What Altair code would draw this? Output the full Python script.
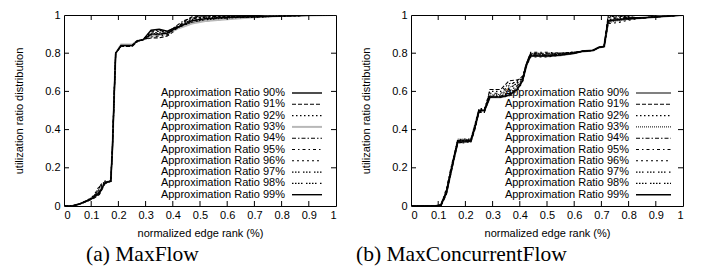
import altair as alt
import pandas as pd

# ---------------- data ----------------
series_names = ["90", "91", "92", "93", "94", "95", "96", "97", "98", "99"]
legend_labels = ["Approximation Ratio %s%%" % s for s in series_names]

x_ticks = [0.1, 0.2, 0.3, 0.4, 0.5, 0.6, 0.7, 0.8, 0.9]
y_ticks = [0.2, 0.4, 0.6, 0.8]
x_label_values = [0, 0.1, 0.2, 0.3, 0.4, 0.5, 0.6, 0.7, 0.8, 0.9, 1]
y_label_values = [0, 0.2, 0.4, 0.6, 0.8, 1]

# (a) MaxFlow
mf_x = [0, 0.03, 0.06, 0.09, 0.11, 0.13, 0.15, 0.172, 0.178, 0.185, 0.19, 0.21, 0.25, 0.27,
        0.29, 0.32, 0.35, 0.38, 0.41, 0.44, 0.47, 0.52, 0.6, 0.7, 0.8, 0.9, 1.0]
mf_90 = [0, 0, 0.012, 0.03, 0.045, 0.065, 0.12, 0.13, 0.30, 0.60, 0.80, 0.84, 0.84, 0.865, 0.87, 0.92, 0.925, 0.915, 0.935, 0.945, 0.96, 0.97, 0.98, 0.99, 0.995, 0.998, 1]
mf_91 = [0, 0, 0.010, 0.028, 0.04, 0.06, 0.115, 0.13, 0.29, 0.59, 0.80, 0.835, 0.835, 0.86, 0.87, 0.88, 0.88, 0.89, 0.92, 0.965, 0.99, 0.995, 0.997, 0.993, 0.995, 0.998, 1]
mf_92 = [0, 0, 0.013, 0.033, 0.05, 0.09, 0.125, 0.13, 0.31, 0.61, 0.80, 0.84, 0.84, 0.865, 0.87, 0.905, 0.91, 0.905, 0.93, 0.955, 0.975, 0.985, 0.99, 0.99, 0.995, 0.998, 1]
mf_93 = [0, 0, 0.012, 0.031, 0.047, 0.08, 0.12, 0.13, 0.30, 0.60, 0.80, 0.845, 0.845, 0.865, 0.87, 0.89, 0.895, 0.9, 0.925, 0.94, 0.955, 0.968, 0.978, 0.988, 0.995, 0.998, 1]
mf_94 = [0, 0, 0.011, 0.029, 0.043, 0.075, 0.118, 0.13, 0.30, 0.60, 0.80, 0.84, 0.84, 0.865, 0.87, 0.915, 0.92, 0.91, 0.94, 0.97, 0.985, 0.99, 0.995, 0.992, 0.995, 0.998, 1]
mf_95 = [0, 0, 0.012, 0.032, 0.052, 0.10, 0.128, 0.13, 0.30, 0.60, 0.80, 0.84, 0.84, 0.865, 0.87, 0.885, 0.89, 0.895, 0.925, 0.95, 0.97, 0.98, 0.985, 0.99, 0.995, 0.998, 1]
mf_96 = [0, 0, 0.013, 0.034, 0.055, 0.105, 0.13, 0.13, 0.31, 0.61, 0.80, 0.84, 0.84, 0.865, 0.87, 0.91, 0.915, 0.91, 0.935, 0.96, 0.98, 0.99, 0.993, 0.99, 0.995, 0.998, 1]
mf_97 = [0, 0, 0.011, 0.03, 0.045, 0.085, 0.122, 0.13, 0.30, 0.60, 0.80, 0.84, 0.84, 0.865, 0.87, 0.895, 0.9, 0.9, 0.93, 0.945, 0.965, 0.975, 0.985, 0.988, 0.995, 0.998, 1]
mf_98 = [0, 0, 0.012, 0.031, 0.048, 0.095, 0.125, 0.13, 0.30, 0.60, 0.80, 0.84, 0.84, 0.865, 0.87, 0.9, 0.905, 0.905, 0.928, 0.955, 0.978, 0.988, 0.99, 0.99, 0.995, 0.998, 1]
mf_99 = [0, 0, 0.012, 0.03, 0.046, 0.07, 0.12, 0.13, 0.30, 0.60, 0.80, 0.84, 0.84, 0.865, 0.87, 0.9, 0.9, 0.905, 0.93, 0.95, 0.97, 0.98, 0.988, 0.99, 0.995, 0.998, 1]

# (b) MaxConcurrentFlow
mcf_x = [0, 0.09, 0.11, 0.13, 0.15, 0.172, 0.2, 0.22, 0.235, 0.25, 0.27, 0.29, 0.33, 0.36, 0.39,
         0.41, 0.425, 0.44, 0.5, 0.55, 0.6, 0.63, 0.67, 0.69, 0.71, 0.725, 0.76, 0.79, 0.85, 0.9, 1.0]
mcf_90 = [0, 0, 0.005, 0.07, 0.2, 0.34, 0.34, 0.34, 0.42, 0.5, 0.5, 0.57, 0.57, 0.58, 0.61, 0.66, 0.74, 0.79, 0.785, 0.79, 0.80, 0.81, 0.815, 0.83, 0.835, 0.97, 0.975, 0.98, 0.985, 0.99, 1]
mcf_91 = [0, 0, 0.0, 0.06, 0.19, 0.33, 0.335, 0.335, 0.40, 0.49, 0.49, 0.61, 0.61, 0.655, 0.66, 0.67, 0.75, 0.80, 0.80, 0.80, 0.805, 0.81, 0.815, 0.83, 0.835, 1.0, 1.0, 0.99, 0.985, 0.99, 1]
mcf_92 = [0, 0, 0.003, 0.065, 0.2, 0.345, 0.35, 0.35, 0.42, 0.51, 0.51, 0.6, 0.6, 0.64, 0.65, 0.67, 0.74, 0.795, 0.795, 0.8, 0.805, 0.81, 0.815, 0.83, 0.835, 0.99, 0.995, 0.99, 0.985, 0.99, 1]
mcf_93 = [0, 0, 0.005, 0.08, 0.21, 0.35, 0.35, 0.345, 0.41, 0.5, 0.5, 0.58, 0.585, 0.62, 0.64, 0.665, 0.745, 0.80, 0.79, 0.795, 0.80, 0.81, 0.815, 0.83, 0.835, 0.96, 0.97, 0.975, 0.985, 0.99, 1]
mcf_94 = [0, 0, 0.004, 0.075, 0.205, 0.34, 0.34, 0.34, 0.41, 0.5, 0.5, 0.57, 0.575, 0.6, 0.63, 0.66, 0.745, 0.79, 0.79, 0.795, 0.80, 0.81, 0.815, 0.83, 0.835, 0.975, 0.985, 0.985, 0.985, 0.99, 1]
mcf_95 = [0, 0, 0.006, 0.09, 0.22, 0.34, 0.345, 0.345, 0.42, 0.505, 0.505, 0.59, 0.59, 0.63, 0.655, 0.68, 0.75, 0.805, 0.805, 0.8, 0.805, 0.81, 0.815, 0.83, 0.835, 0.985, 0.99, 0.985, 0.985, 0.99, 1]
mcf_96 = [0, 0, 0.005, 0.07, 0.2, 0.335, 0.33, 0.34, 0.41, 0.495, 0.495, 0.57, 0.57, 0.575, 0.6, 0.65, 0.735, 0.78, 0.78, 0.79, 0.80, 0.81, 0.815, 0.83, 0.835, 0.955, 0.96, 0.97, 0.985, 0.99, 1]
mcf_97 = [0, 0, 0.004, 0.08, 0.21, 0.345, 0.345, 0.35, 0.42, 0.505, 0.505, 0.58, 0.58, 0.61, 0.645, 0.665, 0.745, 0.80, 0.80, 0.8, 0.805, 0.81, 0.815, 0.83, 0.835, 0.99, 0.995, 0.99, 0.985, 0.99, 1]
mcf_98 = [0, 0, 0.005, 0.075, 0.205, 0.34, 0.34, 0.34, 0.41, 0.5, 0.5, 0.575, 0.575, 0.59, 0.62, 0.655, 0.74, 0.79, 0.79, 0.795, 0.80, 0.81, 0.815, 0.83, 0.835, 0.965, 0.98, 0.98, 0.985, 0.99, 1]
mcf_99 = [0, 0, 0.005, 0.07, 0.2, 0.34, 0.34, 0.34, 0.41, 0.5, 0.5, 0.57, 0.57, 0.58, 0.61, 0.655, 0.74, 0.785, 0.785, 0.79, 0.80, 0.81, 0.815, 0.83, 0.835, 0.97, 0.975, 0.98, 0.985, 0.99, 1]

mf_series = [mf_90, mf_91, mf_92, mf_93, mf_94, mf_95, mf_96, mf_97, mf_98, mf_99]
mcf_series = [mcf_90, mcf_91, mcf_92, mcf_93, mcf_94, mcf_95, mcf_96, mcf_97, mcf_98, mcf_99]

# ---------------- styles ----------------
W, H = 272, 191
SANS = "Liberation Sans"
SERIF = "Liberation Serif"

dash_common = {
    "91": [4, 2],
    "92": [1.5, 2.5],
    "94": [4, 2, 1.5, 2],
    "95": [3, 3, 1.5, 3],
    "96": [2, 3],
    "97": [1.5, 1.5, 1.5, 1.5, 1.5, 3.5],
    "98": [1.5, 1.5, 1.5, 1.5, 1.5, 1.5, 1.5, 3.5],
}
left_styles = {s: ("black", 1.1, dash_common.get(s)) for s in series_names}
left_styles["90"] = ("black", 1.4, None)
left_styles["93"] = ("#b8b8b8", 2.0, None)
left_styles["99"] = ("black", 1.4, None)
right_styles = {s: ("black", 1.1, dash_common.get(s)) for s in series_names}
right_styles["90"] = ("#808080", 2.2, None)
right_styles["93"] = ("black", 1.0, [1, 1])
right_styles["99"] = ("black", 1.4, None)

xsc = alt.Scale(domain=[0, 1], nice=False, zero=False)
ysc = alt.Scale(domain=[0, 1], nice=False, zero=False)
x_axis = alt.Axis(title="normalized edge rank (%)", values=x_label_values, format="~g",
                  labelPadding=3, titlePadding=7)
y_axis = alt.Axis(title="utilization ratio distribution", values=y_label_values, format="~g",
                  labelPadding=4, titlePadding=20)


def mark_kwargs(style):
    color, width, dash = style
    kw = dict(color=color, strokeWidth=width, clip=True)
    if dash:
        kw["strokeDash"] = dash
    return kw


def panel(xs, ys_list, styles, caption, cap_dx, key_text_gap, key_end_gap):
    rows = []
    for name, ys in zip(series_names, ys_list):
        for xv, yv in zip(xs, ys):
            rows.append({"x": xv, "y": yv, "series": name})
    df = pd.DataFrame(rows)

    layers = []
    for name in series_names:
        layers.append(
            alt.Chart(df).transform_filter(alt.datum.series == name)
            .mark_line(**mark_kwargs(styles[name]))
            .encode(x=alt.X("x:Q", scale=xsc, axis=x_axis),
                    y=alt.Y("y:Q", scale=ysc, axis=y_axis),
                    order="x:Q")
        )

    # inward ticks (gnuplot style), on all four sides
    xt = pd.DataFrame({"x": x_ticks})
    yt = pd.DataFrame({"y": y_ticks})
    tl = 5
    layers.append(alt.Chart(xt).mark_rule(color="black", strokeWidth=1)
                  .encode(x=alt.X("x:Q", scale=xsc, axis=x_axis), y=alt.value(H), y2=alt.value(H - tl)))
    layers.append(alt.Chart(xt).mark_rule(color="black", strokeWidth=1)
                  .encode(x=alt.X("x:Q", scale=xsc, axis=x_axis), y=alt.value(0), y2=alt.value(tl)))
    layers.append(alt.Chart(yt).mark_rule(color="black", strokeWidth=1)
                  .encode(y=alt.Y("y:Q", scale=ysc, axis=y_axis), x=alt.value(0), x2=alt.value(tl)))
    layers.append(alt.Chart(yt).mark_rule(color="black", strokeWidth=1)
                  .encode(y=alt.Y("y:Q", scale=ysc, axis=y_axis), x=alt.value(W), x2=alt.value(W - tl)))

    # key (inside, bottom right)
    row0, step = 78, 11.3
    for i, (name, lab) in enumerate(zip(series_names, legend_labels)):
        yy = row0 + i * step
        ldf = pd.DataFrame({"label": [lab]})
        layers.append(alt.Chart(ldf).mark_text(align="right", baseline="middle", font=SANS,
                                               fontSize=11, color="black")
                      .encode(text="label:N", x=alt.value(W - key_text_gap), y=alt.value(yy)))
        kw = mark_kwargs(styles[name])
        kw.pop("clip")
        layers.append(alt.Chart(ldf).mark_rule(**kw)
                      .encode(x=alt.value(W - key_text_gap + 7), x2=alt.value(W - key_end_gap),
                              y=alt.value(yy)))

    return alt.layer(*layers).properties(
        width=W, height=H,
        title=alt.TitleParams(caption, orient="bottom", anchor="start", frame="group",
                              font=SERIF, fontSize=21.5, fontWeight="normal", color="black",
                              dx=cap_dx, offset=6),
    )


left = panel(mf_x, mf_series, left_styles, "(a) MaxFlow", 22, 51, 14)
right = panel(mcf_x, mcf_series, right_styles, "(b) MaxConcurrentFlow", -55, 54, 12)

chart = alt.hconcat(left, right, spacing=18).properties(
    padding={"left": 5, "top": 0, "right": 0, "bottom": 0}
).configure_view(stroke="black", strokeWidth=1).configure_axis(
    labelFont=SANS, labelFontSize=11, labelColor="black",
    titleFont=SANS, titleFontSize=11, titleFontWeight="normal", titleColor="black",
    ticks=False, domain=False, grid=False,
)

chart.save("out.html", embed_options={"renderer": "svg", "actions": False})
